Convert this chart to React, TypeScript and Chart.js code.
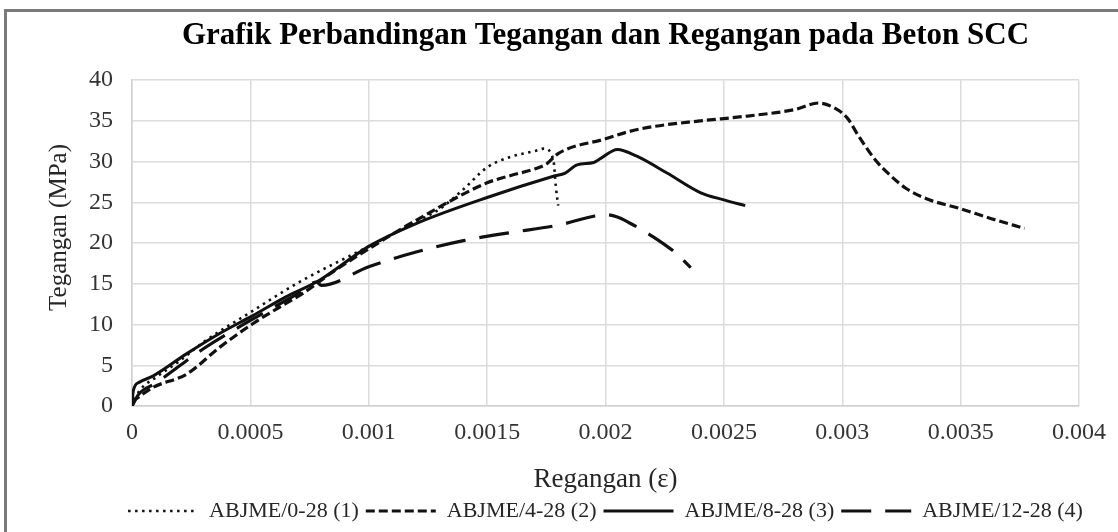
import React, { useEffect, useRef } from "react";
import { Chart, registerables } from "chart.js";

Chart.register(...registerables);

// ---- Data (strain ε, stress MPa) ----
const seriesLabels = [
  "ABJME/0-28 (1)",
  "ABJME/4-28 (2)",
  "ABJME/8-28 (3)",
  "ABJME/12-28 (4)",
];

const strain1 = [0, 0.00003, 0.0001, 0.0002, 0.0003, 0.0005, 0.0007, 0.001, 0.0012, 0.0013, 0.0014, 0.0015, 0.0016, 0.0017, 0.00174, 0.00178, 0.00179, 0.0018];
const stress1 = [0, 1.8, 3.5, 5.5, 7.8, 11.5, 15.1, 19.6, 22.6, 24.2, 26.6, 29.3, 30.6, 31.3, 31.6, 30.2, 27.0, 24.6];

const strain2 = [0, 0.00009, 0.00023, 0.00037, 0.00051, 0.00065, 0.00072, 0.00085, 0.001, 0.0012, 0.0015, 0.0016, 0.0017, 0.00175, 0.0018, 0.002, 0.0021, 0.0022, 0.0024, 0.0026, 0.0028, 0.0029, 0.00296, 0.00302, 0.00307, 0.00314, 0.0032, 0.00327, 0.00337, 0.00349, 0.00363, 0.00377];
const stress2 = [0.5, 2.3, 3.9, 7.2, 10.1, 12.6, 13.8, 16.5, 19.3, 22.8, 27.4, 28.3, 29.1, 29.7, 31.0, 32.8, 33.7, 34.3, 35.0, 35.6, 36.4, 37.2, 36.7, 35.4, 33.1, 30.2, 28.4, 26.7, 25.3, 24.3, 23.0, 21.8];

const strain3 = [0, 0.000005, 0.00003, 0.00009, 0.00023, 0.00037, 0.00051, 0.00065, 0.00079, 0.001, 0.0012, 0.0015, 0.00178, 0.00183, 0.00188, 0.00195, 0.00198, 0.00205, 0.00213, 0.00226, 0.0024, 0.0025, 0.00259];
const stress3 = [0, 1.8, 2.9, 3.7, 6.4, 8.9, 11.1, 13.4, 15.4, 19.6, 22.4, 25.6, 28.2, 28.6, 29.6, 29.9, 30.4, 31.5, 30.7, 28.6, 26.2, 25.3, 24.6];

const strain4 = [0, 0.00003, 0.0001, 0.0003, 0.0005, 0.0007, 0.00078, 0.0008, 0.001, 0.0012, 0.0014, 0.0016, 0.0018, 0.00195, 0.002, 0.00205, 0.0021, 0.0022, 0.0023, 0.00236];
const stress4 = [0, 1.5, 2.8, 7.0, 10.5, 13.8, 15.2, 14.8, 17.1, 18.9, 20.3, 21.3, 22.2, 23.3, 23.5, 23.2, 22.5, 20.8, 18.7, 17.0];

const xTickLabels = ["0", "0.0005", "0.001", "0.0015", "0.002", "0.0025", "0.003", "0.0035", "0.004"];
const yTicks = [0, 5, 10, 15, 20, 25, 30, 35, 40];

const titleText = "Grafik Perbandingan Tegangan dan Regangan pada Beton SCC";
const xTitle = "Regangan (\u03b5)";
const yTitle = "Tegangan (MPa)";

const SERIF = "'Liberation Serif', 'Times New Roman', serif";

function pts(xs: number[], ys: number[]) {
  return xs.map((x, i) => ({ x, y: ys[i] }));
}

// Centre the title and legend over the plot area (as in the reference)
const centerPlugin = {
  id: "centerOnPlot",
  afterLayout(chart: any) {
    const ca = chart.chartArea;
    const boxes = [chart.titleBlock, chart.legend];
    for (const b of boxes) {
      if (!b) continue;
      b.left = ca.left - 80;
      b.right = ca.right + 80;
      b.width = b.right - b.left;
    }
  },
};

export default function App() {
  const ref = useRef<HTMLCanvasElement | null>(null);

  useEffect(() => {
    if (!ref.current) return;
    const common = {
      showLine: true,
      pointRadius: 0,
      pointHoverRadius: 0,
      borderColor: "#111111",
      backgroundColor: "transparent",
      fill: false,
      cubicInterpolationMode: "monotone" as const,
      borderCapStyle: "butt" as const,
    };
    const chart = new Chart(ref.current, {
      type: "scatter",
      data: {
        datasets: [
          { ...common, label: seriesLabels[0], data: pts(strain1, stress1), borderWidth: 2.6, borderDash: [2.5, 4.5] },
          { ...common, label: seriesLabels[1], data: pts(strain2, stress2), borderWidth: 3.2, borderDash: [9, 4] },
          { ...common, label: seriesLabels[2], data: pts(strain3, stress3), borderWidth: 3 },
          { ...common, label: seriesLabels[3], data: pts(strain4, stress4), borderWidth: 3.2, borderDash: [30, 14] },
        ],
      },
      options: {
        animation: false,
        responsive: false,
        events: [],
        layout: { padding: { left: 8, right: 5, top: 12, bottom: 0 } },
        plugins: {
          tooltip: { enabled: false },
          title: {
            display: true,
            text: titleText,
            color: "#000000",
            font: { family: SERIF, size: 31, weight: "bold" },
            padding: { top: 5, bottom: 26 },
          },
          legend: {
            display: true,
            position: "bottom",
            labels: {
              usePointStyle: true,
              pointStyleWidth: 70,
              boxHeight: 10,
              padding: 7,
              color: "#262626",
              font: { family: SERIF, size: 22 },
              generateLabels: (ch: any) =>
                ch.data.datasets.map((ds: any, i: number) => ({
                  text: ds.label,
                  fillStyle: "transparent",
                  strokeStyle: "#111111",
                  lineWidth: ds.borderWidth,
                  lineDash: ds.borderDash || [],
                  lineCap: "butt",
                  pointStyle: "line",
                  hidden: false,
                  datasetIndex: i,
                  fontColor: "#262626",
                })),
            },
          },
        },
        scales: {
          x: {
            type: "linear",
            min: 0,
            max: 0.004,
            offset: false,
            afterFit: (s: any) => {
              s.height = 87;
            },
            ticks: {
              stepSize: 0.0005,
              padding: 12,
              color: "#333333",
              font: { family: SERIF, size: 24 },
              maxRotation: 0,
              callback: (v: any, i: number) => xTickLabels[i] ?? String(v),
            },
            grid: { color: "#dcdcdc", lineWidth: 1.5, drawTicks: false },
            border: { color: "#d0d0d0", width: 1.5 },
            title: {
              display: true,
              text: xTitle,
              color: "#262626",
              font: { family: SERIF, size: 27, lineHeight: 1 },
              padding: { top: 0, bottom: 0 },
            },
          },
          y: {
            type: "linear",
            min: 0,
            max: 40,
            afterFit: (s: any) => {
              s.width = 124;
            },
            afterBuildTicks: (s: any) => {
              s.ticks = yTicks.map((v) => ({ value: v }));
            },
            ticks: {
              padding: 19,
              color: "#333333",
              font: { family: SERIF, size: 24 },
            },
            grid: { color: "#dcdcdc", lineWidth: 1.5, drawTicks: false },
            border: { color: "#d0d0d0", width: 1.5 },
            title: {
              display: true,
              text: "\u00a0\u00a0\u00a0\u00a0\u00a0" + yTitle,
              color: "#262626",
              font: { family: SERIF, size: 25 },
              padding: { top: 36, bottom: 0 },
            },
          },
        },
      },
      plugins: [centerPlugin],
    } as any);
    return () => chart.destroy();
  }, []);

  return (
    <div
      style={{
        position: "fixed",
        left: 0,
        top: 0,
        width: 1118,
        height: 532,
        background: "#ffffff",
        overflow: "hidden",
      }}
    >
      <canvas ref={ref} width={1118} height={532} style={{ position: "absolute", left: 0, top: 0, width: 1118, height: 532 }} />
      <div
        style={{
          position: "absolute",
          left: 4,
          top: 9,
          width: 1200,
          height: 600,
          borderTop: "3px solid #7a7a7a",
          borderLeft: "3px solid #7a7a7a",
          pointerEvents: "none",
        }}
      />
    </div>
  );
}
